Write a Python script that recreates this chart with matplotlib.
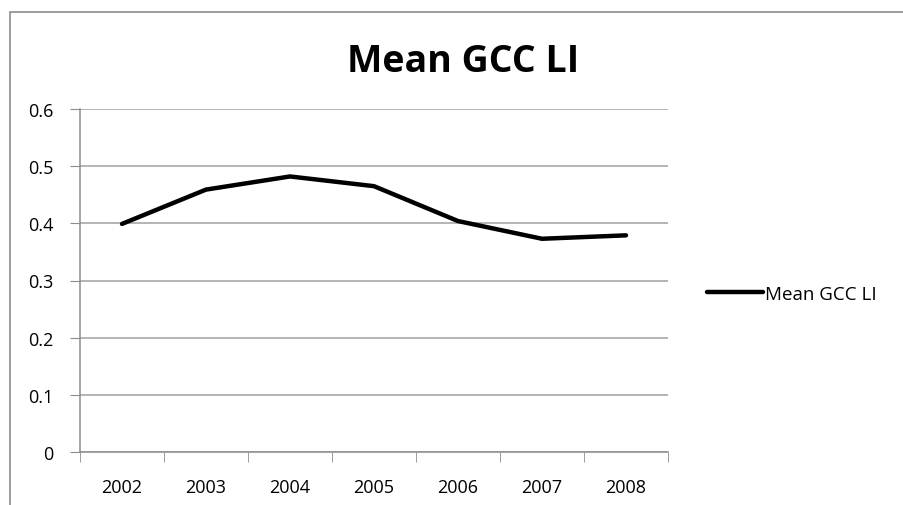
import matplotlib
matplotlib.use("Agg")
from matplotlib import pyplot as plt
from matplotlib.patches import Rectangle
import numpy as np

# data
years = ['2002', '2003', '2004', '2005', '2006', '2007', '2008']
mean_gcc_li = [0.399, 0.459, 0.482, 0.465, 0.404, 0.373, 0.379]
yticks = [0, 0.1, 0.2, 0.3, 0.4, 0.5, 0.6]

plt.rcParams['font.family'] = ['Open Sans', 'DejaVu Sans']

grey = '#8c8c8c'

fig = plt.figure(figsize=(9.04, 5.06), dpi=100)
# outer chart frame
fig.patches.append(Rectangle((10 / 904, -0.01), 1.0, 1 - 13 / 506 + 0.01,
                             transform=fig.transFigure, fill=False,
                             edgecolor=grey, linewidth=1.2))

ax = fig.add_axes([80 / 904, 1 - 453 / 506, (668 - 80) / 904, (453 - 110) / 506])

x = np.arange(len(years))
line, = ax.plot(x, mean_gcc_li, color='black', lw=3.2,
                solid_joinstyle='round', solid_capstyle='round', label='Mean GCC LI')

ax.set_xlim(-0.5, len(years) - 0.5)
ax.set_ylim(0, 0.6)
ax.set_yticks(yticks)
ax.set_yticklabels(['0' if v == 0 else '%.1f' % v for v in yticks])
ax.set_xticks(x)
ax.set_xticklabels(years)
ax.set_xticks(np.arange(-0.5, len(years)), minor=True)
ax.tick_params(axis='x', which='major', length=0, pad=19, labelsize=13)
ax.tick_params(axis='x', which='minor', length=7, color=grey, direction='out')
ax.tick_params(axis='y', length=7, color=grey, pad=12, labelsize=13)

ax.grid(axis='y', color='#a0a0a0', linewidth=1.1)
ax.set_axisbelow(True)
for s in ['top', 'right']:
    ax.spines[s].set_visible(False)
for s in ['left', 'bottom']:
    ax.spines[s].set_color(grey)
    ax.spines[s].set_linewidth(1.1)

fig.text(463 / 904, 1 - 62 / 506, 'Mean GCC LI', ha='center', va='center',
         fontsize=27, fontweight='bold')

fig.legend(handles=[line], loc='center left', bbox_to_anchor=(690 / 904, 1 - 295 / 506),
           frameon=False, fontsize=13.5, handlelength=3.0, handletextpad=0.1)

fig.savefig('out.png', dpi=100)
